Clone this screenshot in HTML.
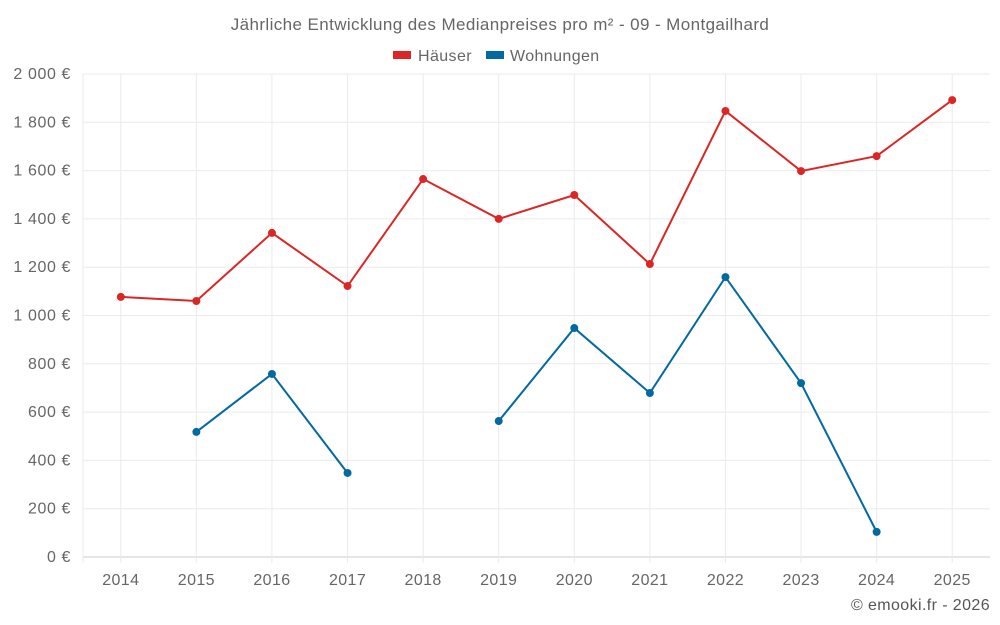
<!DOCTYPE html>
<html><head><meta charset="utf-8"><style>
html,body{margin:0;padding:0;background:#fff;}
svg{display:block;font-family:"Liberation Sans",sans-serif;}
</style></head><body>
<svg id="chart" width="1000" height="625">
<text x="500" y="30" text-anchor="middle" font-size="17" letter-spacing="0.4" fill="#666">Jährliche Entwicklung des Medianpreises pro m² - 09 - Montgailhard</text>
<g>
<g><rect x="393" y="51" width="18" height="8" fill="#dc2626"/><text x="418" y="61" font-size="16" letter-spacing="0.4" fill="#666">Häuser</text></g>
<g><rect x="486" y="51" width="18" height="8" fill="#0369a1"/><text x="510" y="61" font-size="16" letter-spacing="0.4" fill="#666">Wohnungen</text></g>
</g>
<g id="grid"></g>
<g id="axes"></g>
<g id="series"></g>
<text x="990" y="610" text-anchor="end" font-size="16" letter-spacing="0.4" fill="#555">© emooki.fr - 2026</text>
</svg>
<script>
const years = ["2014","2015","2016","2017","2018","2019","2020","2021","2022","2023","2024","2025"];
const haeuser = [1077,1060,1342,1122,1565,1400,1499,1213,1847,1598,1660,1892];
const wohnungen = [null,518,758,348,null,563,948,679,1159,720,104,null];
const yTicks = [0,200,400,600,800,1000,1200,1400,1600,1800,2000];
const yTickLabels = ["0 €","200 €","400 €","600 €","800 €","1 000 €","1 200 €","1 400 €","1 600 €","1 800 €","2 000 €"];
const NS="http://www.w3.org/2000/svg";
const L=83,R=990,T=74,B=557;
const step=(R-L)/years.length;
const x=i=>L+step*(i+0.5);
const y=v=>B-(v/2000)*(B-T);
function mk(tag,attrs,parent){const e=document.createElementNS(NS,tag);for(const k in attrs)e.setAttribute(k,attrs[k]);parent.appendChild(e);return e;}
const grid=document.getElementById('grid'),axes=document.getElementById('axes'),ser=document.getElementById('series');
yTicks.forEach((v,i)=>{
 const l=mk('line',{x1:L,x2:R,y1:y(v),y2:y(v),stroke:i==0?'#ccc':'#ebebeb','stroke-width':1},grid);
 
 
 const t=mk('text',{x:L-12,y:y(v)+5,'text-anchor':'end','font-size':16,'letter-spacing':0.6,fill:'#666'},axes);
 t.textContent=yTickLabels[i];
 
 
});
mk('line',{x1:L,x2:L,y1:T,y2:B+6,stroke:'#ebebeb'},grid);
years.forEach((yr,i)=>{
 const l=mk('line',{x1:x(i),x2:x(i),y1:T,y2:B+6,stroke:'#ebebeb'},grid);
 
 
 const t=mk('text',{x:x(i),y:585,'text-anchor':'middle','font-size':16,'letter-spacing':0.4,fill:'#666'},axes);
 t.textContent=yr;
 
 
});
function draw(data,color,name){
 let segs=[],cur=[];
 data.forEach((v,i)=>{if(v==null){if(cur.length)segs.push(cur);cur=[];}else cur.push([x(i),y(v)]);});
 if(cur.length)segs.push(cur);
 segs.forEach(s=>{
  const p=mk('polyline',{points:s.map(q=>q.join(',')).join(' '),fill:'none',stroke:color,'stroke-width':2},ser);
  
  
 });
 data.forEach((v,i)=>{if(v==null)return;
  const c=mk('circle',{cx:x(i),cy:y(v),r:4,fill:color},ser);
  
  
 });
}
draw(haeuser,'#dc2626','haeuser');
draw(wohnungen,'#0369a1','wohnungen');
</script>
</body></html>
